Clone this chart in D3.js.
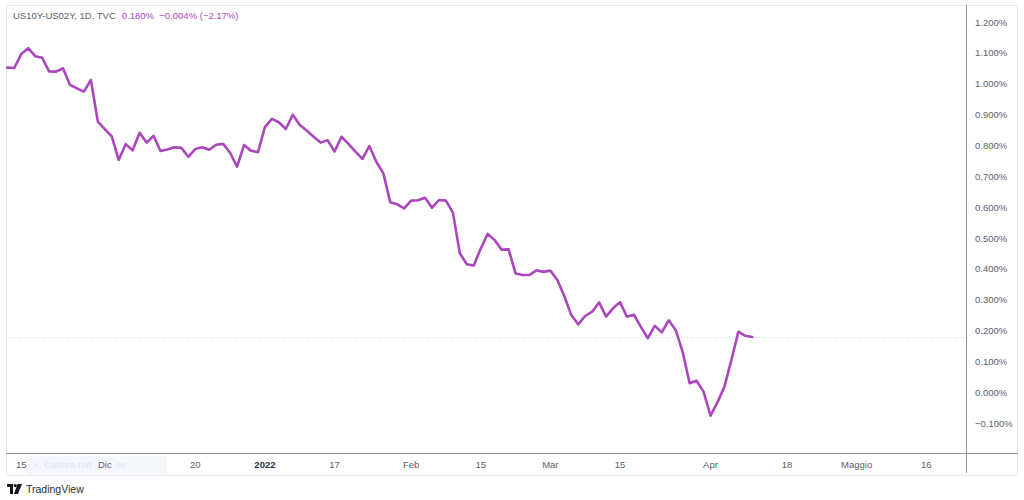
<!DOCTYPE html>
<html>
<head>
<meta charset="utf-8">
<script src="https://cdn.jsdelivr.net/npm/d3@7"></script>
<style>
  html, body { margin: 0; padding: 0; background: #fff; }
  svg { display: block; font-family: "Liberation Sans", Arial, sans-serif; }
</style>
</head>
<body>
<svg id="chart" width="1024" height="500"></svg>
<script>
// ---- data (trading-day index -> spread %) ----
const spreadValues = [
  1.053, 1.052, 1.097, 1.116, 1.090, 1.085, 1.041, 1.040, 1.051, 0.997,
  0.986, 0.975, 1.013, 0.878, 0.854, 0.830, 0.754, 0.805, 0.785, 0.842,
  0.810, 0.832, 0.783, 0.788, 0.795, 0.793, 0.764, 0.789, 0.795, 0.787,
  0.803, 0.806, 0.777, 0.732, 0.802, 0.784, 0.779, 0.860, 0.887, 0.876,
  0.854, 0.900, 0.867, 0.849, 0.829, 0.810, 0.818, 0.781, 0.829, 0.806,
  0.781, 0.757, 0.799, 0.748, 0.711, 0.617, 0.610, 0.597, 0.622, 0.623,
  0.631, 0.599, 0.624, 0.622, 0.583, 0.451, 0.416, 0.412, 0.467, 0.514,
  0.494, 0.463, 0.464, 0.386, 0.381, 0.381, 0.396, 0.391, 0.395, 0.365,
  0.313, 0.251, 0.221, 0.248, 0.262, 0.292, 0.246, 0.273, 0.293, 0.246,
  0.252, 0.213, 0.176, 0.216, 0.195, 0.234, 0.203, 0.132, 0.030, 0.038,
  0.003, -0.075, -0.032, 0.019, 0.105, 0.197, 0.184, 0.180
];
const lastValue = 0.180;

// x-axis tick labels at trading-day indices
const xTickIndex  = [2, 14, 27, 37, 47, 58, 68, 78, 88, 101, 112, 122, 132];
const xTickLabels = ["15", "Dic", "20", "2022", "17", "Feb", "15", "Mar", "15", "Apr", "18", "Maggio", "16"];
const xTickBold   = ["2022"];

// y-axis ticks (percent)
const yTicks = [1.2, 1.1, 1.0, 0.9, 0.8, 0.7, 0.6, 0.5, 0.4, 0.3, 0.2, 0.1, 0.0, -0.1];

const titleText = "US10Y-US02Y, 1D, TVC";
const quoteText = "0.180%  \u22120.004% (\u22122.17%)";

// ---- layout ----
const frame = { left: 6, top: 5, right: 1018, bottom: 476 };
const plot  = { left: 6, top: 5, right: 966, bottom: 453 };

const svg = d3.select("#chart");

const x = d3.scaleLinear().domain([-0.19, 137.7]).range([plot.left, plot.right]);
const y = d3.scaleLinear().domain([-0.196, 1.256]).range([plot.bottom, plot.top]);

// outer frame
svg.append("rect")
  .attr("x", frame.left + 0.5).attr("y", frame.top + 0.5)
  .attr("width", frame.right - frame.left - 1).attr("height", frame.bottom - frame.top - 1)
  .attr("fill", "#fff").attr("stroke", "#e6e8ee");

// clip
svg.append("clipPath").attr("id", "plotclip")
  .append("rect").attr("x", plot.left).attr("y", plot.top)
  .attr("width", plot.right - plot.left).attr("height", plot.bottom - plot.top);

// last price dotted line
svg.append("line")
  .attr("x1", plot.left).attr("x2", plot.right)
  .attr("y1", Math.round(y(lastValue)) + 0.5).attr("y2", Math.round(y(lastValue)) + 0.5)
  .attr("stroke", "#bfe3e3").attr("stroke-width", 1).attr("stroke-dasharray", "1,2");

// line
const line = d3.line().x((d, i) => x(i)).y(d => y(d));
svg.append("path")
  .datum(spreadValues)
  .attr("clip-path", "url(#plotclip)")
  .attr("d", line)
  .attr("fill", "none")
  .attr("stroke", "#ab47bc")
  .attr("stroke-width", 2.6)
  .attr("stroke-linejoin", "round")
  .attr("stroke-linecap", "round");

// axis lines
svg.append("line")
  .attr("x1", plot.left).attr("x2", frame.right)
  .attr("y1", plot.bottom + 0.5).attr("y2", plot.bottom + 0.5)
  .attr("stroke", "#8f939c").attr("stroke-width", 1);
svg.append("line")
  .attr("x1", plot.right + 0.5).attr("x2", plot.right + 0.5)
  .attr("y1", frame.top).attr("y2", frame.bottom - 3)
  .attr("stroke", "#8f939c").attr("stroke-width", 1);

// y axis labels
const fmt = v => (v < 0 ? "\u2212" : "") + d3.format(".3f")(Math.abs(v)) + "%";
svg.append("g").selectAll("text")
  .data(yTicks).join("text")
  .attr("x", 975)
  .attr("y", d => y(d))
  .attr("dy", "0.35em")
  .attr("font-size", 9.5)
  .attr("fill", "#5d606b")
  .text(d => fmt(d));

// screen-capture artifact box (faint, partly hidden behind "Dic")
svg.append("rect")
  .attr("x", 26).attr("y", 456).attr("width", 141).attr("height", 18)
  .attr("fill", "#f3f7fc");
const artifact = svg.append("g").attr("font-size", 9.5).attr("fill", "#dbe4f1");
artifact.append("text").attr("x", 33).attr("y", 465).attr("dy", "0.35em").text("\u00d7");
artifact.append("text").attr("x", 44).attr("y", 465).attr("dy", "0.35em").text("Cattura rett");
artifact.append("text").attr("x", 117).attr("y", 465).attr("dy", "0.35em").text("re");

// x axis labels
svg.append("g").selectAll("text")
  .data(xTickIndex).join("text")
  .attr("x", d => x(d))
  .attr("y", 465)
  .attr("dy", "0.35em")
  .attr("text-anchor", "middle")
  .attr("font-size", 9.5)
  .attr("font-weight", (d, i) => xTickBold.includes(xTickLabels[i]) ? "bold" : "normal")
  .attr("fill", (d, i) => xTickBold.includes(xTickLabels[i]) ? "#2a2e39" : "#5d606b")
  .text((d, i) => xTickLabels[i]);

// title
const title = svg.append("text")
  .attr("x", 13).attr("y", 16).attr("dy", "0.35em")
  .attr("font-size", 9.5);
title.append("tspan").attr("fill", "#5d606b").text(titleText);
title.append("tspan").attr("fill", "#ab47bc").attr("dx", 6).attr("xml:space", "preserve").text(quoteText);

// TradingView logo
const logo = svg.append("g").attr("transform", "translate(7,484)");
logo.append("path").attr("d", "M0,0 H6 V10 H3 V3 H0 Z").attr("fill", "#131722");
logo.append("circle").attr("cx", 8.2).attr("cy", 1.6).attr("r", 1.6).attr("fill", "#131722");
logo.append("path").attr("d", "M10.5,0 H15 L11,10 H7 Z").attr("fill", "#131722");
svg.append("text")
  .attr("x", 26).attr("y", 489).attr("dy", "0.35em")
  .attr("font-size", 10.5).attr("fill", "#2a2e39")
  .text("TradingView");
</script>
</body>
</html>
